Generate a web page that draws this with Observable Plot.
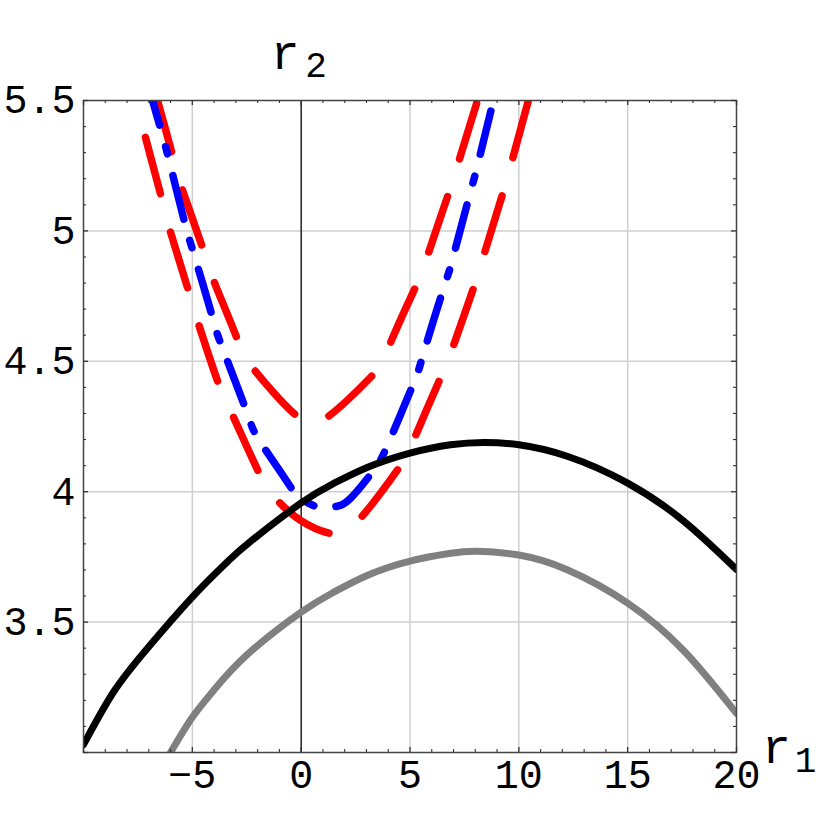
<!DOCTYPE html>
<html><head><meta charset="utf-8">
<script src="https://cdn.jsdelivr.net/npm/d3@7"></script>
<script src="https://cdn.jsdelivr.net/npm/@observablehq/plot@0.6"></script>
<style>body{margin:0;background:#fff}#chart{width:830px;height:830px}</style>
</head><body><div id="chart"></div>
<script>
// ---- data ----
const blackX = [-10, -8.62, -7.06, -5, -3.39, -2.33, 0, 1.48, 3.03, 5, 6.86, 8.39, 10, 12.22, 14.98, 17.58, 20];
const blackY = [3.03, 3.232, 3.4, 3.596, 3.731, 3.809, 3.957, 4.031, 4.093, 4.148, 4.18, 4.189, 4.18, 4.136, 4.034, 3.887, 3.702];

const grayX = [-6.0, -5, -4.03, -2.48, 0, 1.48, 3.03, 5, 6.86, 8.08, 10, 12.22, 15, 17.58, 20];
const grayY = [3.0, 3.135, 3.237, 3.375, 3.538, 3.614, 3.679, 3.734, 3.764, 3.772, 3.757, 3.701, 3.573, 3.39, 3.15];

const blueX = [-6.83, -6.46, -6.1, -5.36, -4.95, -4.07, -3.66, -2.56, -2.01, -0.95, -0.26, 0.2, 0.89, 1.58, 2.26, 3.28, 3.96, 5.16, 5.62, 6.54, 6.95, 7.73, 8.1, 8.83];
const blueY = [5.5, 5.393, 5.281, 5.035, 4.917, 4.668, 4.561, 4.319, 4.208, 4.076, 3.992, 3.962, 3.939, 3.943, 3.974, 4.076, 4.177, 4.415, 4.53, 4.779, 4.89, 5.135, 5.25, 5.5];

const redInnerX = [-6.6, -5.91, -5.54, -4.53, -4.07, -2.93, -2.24, -0.22, 0.43, 1.12, 3.32, 4.01, 5.34, 5.71, 6.77, 7.18, 8.1];
const redInnerY = [5.5, 5.289, 5.178, 4.935, 4.82, 4.584, 4.476, 4.292, 4.277, 4.281, 4.45, 4.552, 4.8, 4.88, 5.143, 5.25, 5.5];

const redOuterX = [-7.57, -7.2, -6.42, -6.05, -5.18, -4.76, -3.8, -3.16, -1.92, -1.09, -0.03, 1.35, 2.63, 4.47, 5.16, 6.31, 6.95, 7.91, 8.33, 9.25, 9.61, 10.44];
const redOuterY = [5.5, 5.373, 5.128, 5.009, 4.771, 4.655, 4.415, 4.295, 4.07, 3.966, 3.89, 3.84, 3.89, 4.089, 4.196, 4.419, 4.549, 4.779, 4.89, 5.14, 5.245, 5.5];

const xTicks = [-5, 0, 5, 10, 15, 20];
const xTickLabels = ["−5", "0", "5", "10", "15", "20"];
const yTicks = [3.5, 4, 4.5, 5, 5.5];
const yTickLabels = ["3.5", "4", "4.5", "5", "5.5"];
const xGrid = [-5, 5, 10, 15];
const yGrid = [3.5, 4, 4.5, 5];

// ---- build tables ----
const toRows = (xs, ys) => xs.map((x, i) => ({x, y: ys[i]}));
const black = toRows(blackX, blackY);
const gray = toRows(grayX, grayY);
const blue = toRows(blueX, blueY);
const redInner = toRows(redInnerX, redInnerY);
const redOuter = toRows(redOuterX, redOuterY);

const xMajor = d3.range(-10, 20.001, 5);
const xMinor = d3.range(-10, 20.001, 1).filter(v => Math.abs(v % 5) > 1e-6);
const yMajor = d3.range(0, 6).map(i => 3 + i * 0.5);
const yMinor = d3.range(0, 26).map(i => 3 + i * 0.1).filter((v, i) => i % 5 !== 0);

const W = 830, H = 830, mL = 83, mR = 94, mT = 100, mB = 78;
const fw = W - mL - mR, fh = H - mT - mB;
const font = "Liberation Mono, DejaVu Sans Mono, monospace";

const lineOpts = {x: "x", y: "y", curve: "natural", strokeWidth: 7.5, strokeLinecap: "round", strokeLinejoin: "round", clip: true};

const chart = Plot.plot({
  width: W, height: H,
  marginLeft: mL, marginRight: mR, marginTop: mT, marginBottom: mB,
  x: {domain: [-10, 20], axis: null},
  y: {domain: [3, 5.5], axis: null},
  style: {background: "#fff", overflow: "visible"},
  marks: [
    Plot.ruleX(xGrid, {x: d => d, stroke: "#cfcfcf", strokeWidth: 1.5}),
    Plot.ruleY(yGrid, {y: d => d, stroke: "#cfcfcf", strokeWidth: 1.5}),
    Plot.ruleX([0], {x: d => d, stroke: "#000", strokeWidth: 1.3}),
    Plot.line(redOuter, {...lineOpts, stroke: "#ff0000", strokeDasharray: "58,40", strokeDashoffset: 60}),
    Plot.line(redInner, {...lineOpts, stroke: "#ff0000", strokeDasharray: "58,40", strokeDashoffset: 5}),
    Plot.line(blue, {...lineOpts, stroke: "#0000ff", strokeDasharray: "44.5,22.5,7.5,22.5", strokeDashoffset: 19}),
    Plot.line(gray, {...lineOpts, stroke: "#808080", strokeWidth: 7}),
    Plot.line(black, {...lineOpts, stroke: "#000", strokeWidth: 7}),
    Plot.frame({stroke: "#444", strokeWidth: 1.5}),
    // ticks (inward, on all four sides)
    Plot.tickX(xMajor, {x: d => d, insetTop: fh - 5, stroke: "#333", strokeWidth: 1.3}),
    Plot.tickX(xMajor, {x: d => d, insetBottom: fh - 5, stroke: "#333", strokeWidth: 1.3}),
    Plot.tickX(xMinor, {x: d => d, insetTop: fh - 3, stroke: "#333", strokeWidth: 1.1}),
    Plot.tickX(xMinor, {x: d => d, insetBottom: fh - 3, stroke: "#333", strokeWidth: 1.1}),
    Plot.tickY(yMajor, {y: d => d, insetRight: fw - 5, stroke: "#333", strokeWidth: 1.3}),
    Plot.tickY(yMajor, {y: d => d, insetLeft: fw - 5, stroke: "#333", strokeWidth: 1.3}),
    Plot.tickY(yMinor, {y: d => d, insetRight: fw - 3, stroke: "#333", strokeWidth: 1.1}),
    Plot.tickY(yMinor, {y: d => d, insetLeft: fw - 3, stroke: "#333", strokeWidth: 1.1}),
    // tick labels
    Plot.text(xTicks, {x: d => d, y: () => 3, text: (d, i) => xTickLabels[i], dy: 23, fontSize: 40, fontFamily: font, fill: "#000", lineAnchor: "middle"}),
    Plot.text(yTicks, {x: () => -10, y: d => d, text: (d, i) => yTickLabels[i], dx: -8, textAnchor: "end", fontSize: 40, fontFamily: font, fill: "#000", lineAnchor: "middle"}),
    // axis titles
    Plot.text(["r"], {x: () => 0, y: () => 5.5, text: d => d, dx: -16, dy: -32, fontSize: 48, fontFamily: font, fill: "#000", lineAnchor: "bottom"}),
    Plot.text(["2"], {x: () => 0, y: () => 5.5, text: d => d, dx: 15, dy: -24, fontSize: 36, fontFamily: font, fill: "#000", lineAnchor: "bottom"}),
    Plot.text(["r"], {x: () => 20, y: () => 3, text: d => d, dx: 40, dy: 10, fontSize: 48, fontFamily: font, fill: "#000", lineAnchor: "bottom"}),
    Plot.text(["1"], {x: () => 20, y: () => 3, text: d => d, dx: 69, dy: 19, fontSize: 36, fontFamily: font, fill: "#000", lineAnchor: "bottom"})
  ]
});
document.getElementById("chart").appendChild(chart);
</script>
</body></html>
